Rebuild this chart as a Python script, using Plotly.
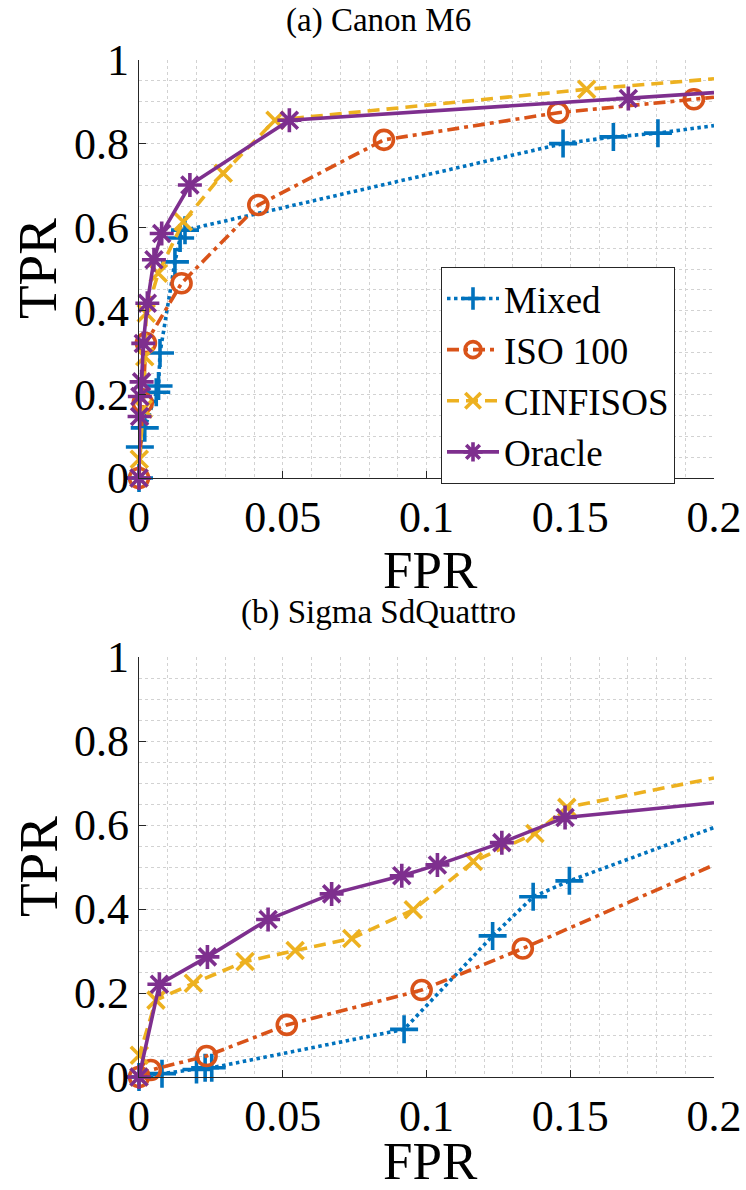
import plotly.graph_objects as go

# ---------------- data ----------------
series_names = ["Mixed", "ISO 100", "CINFISOS", "Oracle"]

# (a) Canon M6
a_mixed_fpr = [0, 0.0003, 0.002, 0.006, 0.0068, 0.0073, 0.0125, 0.0143, 0.016, 0.1475, 0.165, 0.1805, 0.2]
a_mixed_tpr = [0, 0.074, 0.12, 0.205, 0.22, 0.299, 0.517, 0.574, 0.593, 0.80, 0.816, 0.825, 0.843]
a_iso_fpr = [0, 0.0013, 0.0024, 0.0148, 0.0415, 0.0852, 0.1458, 0.193, 0.2]
a_iso_tpr = [0, 0.18, 0.323, 0.466, 0.653, 0.809, 0.874, 0.906, 0.911]
a_cin_fpr = [0, 0.0001, 0.0015, 0.002, 0.0025, 0.0067, 0.0154, 0.0293, 0.0473, 0.1557, 0.2]
a_cin_tpr = [0, 0.045, 0.165, 0.29, 0.394, 0.49, 0.613, 0.729, 0.856, 0.93, 0.955]
a_orc_fpr = [0, 0.0002, 0.0003, 0.0009, 0.0015, 0.0029, 0.0052, 0.0079, 0.0177, 0.0523, 0.1702, 0.2]
a_orc_tpr = [0, 0.147, 0.195, 0.23, 0.322, 0.418, 0.522, 0.585, 0.701, 0.856, 0.908, 0.922]

# (b) Sigma SdQuattro
b_mixed_fpr = [0, 0.008, 0.02, 0.023, 0.0253, 0.0922, 0.123, 0.1371, 0.1497, 0.2]
b_mixed_tpr = [0, 0.008, 0.018, 0.022, 0.022, 0.1135, 0.336, 0.429, 0.467, 0.594]
b_iso_fpr = [0, 0.0041, 0.0235, 0.0514, 0.0983, 0.1335, 0.2]
b_iso_tpr = [0, 0.0167, 0.05, 0.124, 0.207, 0.306, 0.505]
b_cin_fpr = [0, 0.0001, 0.0059, 0.0189, 0.0369, 0.0543, 0.074, 0.0954, 0.1163, 0.1377, 0.1488, 0.2]
b_cin_tpr = [0, 0.052, 0.183, 0.223, 0.275, 0.301, 0.330, 0.398, 0.513, 0.58, 0.642, 0.712]
b_orc_fpr = [0, 0.0071, 0.0238, 0.0449, 0.067, 0.0914, 0.1038, 0.1262, 0.1482, 0.2]
b_orc_tpr = [0, 0.221, 0.286, 0.375, 0.436, 0.479, 0.505, 0.558, 0.618, 0.653]

x_ticks = [0, 0.05, 0.1, 0.15, 0.2]
y_ticks = [0, 0.2, 0.4, 0.6, 0.8, 1]
titles = ["(a) Canon M6", "(b) Sigma SdQuattro"]

# ---------------- styles ----------------
colors = ["#0072BD", "#D95319", "#EDB120", "#7E2F8E"]
dashes = ["3.5px,3.5px", "12px,5px,4px,5px", "12px,7px", "solid"]
symbols = ["cross-thin-open", "circle-open", "x-thin-open", "asterisk-open"]
msizes = [20, 19, 17, 20]
FONT = "Liberation Serif, Times New Roman, serif"
TXT = "#000000"
W, H = 746, 1190
LW = 3.6

fig = go.Figure()

panels = [
    ("x", "y", [(a_mixed_fpr, a_mixed_tpr), (a_iso_fpr, a_iso_tpr), (a_cin_fpr, a_cin_tpr), (a_orc_fpr, a_orc_tpr)], True),
    ("x2", "y2", [(b_mixed_fpr, b_mixed_tpr), (b_iso_fpr, b_iso_tpr), (b_cin_fpr, b_cin_tpr), (b_orc_fpr, b_orc_tpr)], False),
]

for xa, ya, data, show in panels:
    for i, (fx, ty) in enumerate(data):
        n = len(fx)
        sizes = [msizes[i]] * (n - 1) + [0]  # last point is only where the curve leaves the axes
        fig.add_trace(go.Scatter(
            x=fx, y=ty, xaxis=xa, yaxis=ya, name=series_names[i],
            mode="lines+markers", showlegend=show, cliponaxis=False,
            line=dict(color=colors[i], width=LW, dash=dashes[i]),
            marker=dict(symbol=symbols[i], size=sizes, color=colors[i], opacity=1,
                        line=dict(color=colors[i], width=LW)),
        ))

def px_x(p):
    return p / W

def px_y(p):
    return 1 - p / H

xdom = [px_x(139), px_x(714)]
grid_kw = dict(showgrid=True, gridcolor="#d2d2d2", griddash="dot", gridwidth=1)
tick_font = dict(family=FONT, size=44, color=TXT)

def make_axis(rng, vals, minor_step, domain, anchor):
    return dict(
        range=rng, tickvals=vals, domain=domain, anchor=anchor,
        showline=True, linecolor="#262626", linewidth=1.2, mirror=False,
        ticks="inside", ticklen=7, tickcolor="#262626", tickwidth=1,
        zeroline=False, automargin=False, tickfont=tick_font,
        minor=dict(dtick=minor_step, tick0=0, ticks="", **grid_kw),
        **grid_kw,
    )

fig.update_layout(
    width=W, height=H,
    margin=dict(l=0, r=0, t=0, b=0, autoexpand=False),
    font=dict(family=FONT, color=TXT, size=20),
    paper_bgcolor="white", plot_bgcolor="white",
    xaxis=make_axis([0, 0.2], x_ticks, 0.01, xdom, "y"),
    yaxis=make_axis([0, 1], y_ticks, 0.05, [px_y(478), px_y(60)], "x"),
    xaxis2=make_axis([0, 0.2], x_ticks, 0.01, xdom, "y2"),
    yaxis2=make_axis([0, 1], y_ticks, 0.05, [px_y(1077), px_y(657)], "x2"),
    legend=dict(
        x=px_x(441), y=px_y(267), xanchor="left", yanchor="top",
        bgcolor="white", bordercolor="#262626", borderwidth=1,
        font=dict(family=FONT, size=37, color=TXT),
        tracegroupgap=0, itemwidth=52,
    ),
    showlegend=True,
)

annots = []
for title, ty in zip(titles, [20, 613]):
    annots.append(dict(text=title, x=px_x(378), y=px_y(ty), xref="paper", yref="paper",
                       showarrow=False, xanchor="center", yanchor="middle",
                       font=dict(family=FONT, size=33, color=TXT)))
for fy in [570, 1161]:
    annots.append(dict(text="FPR", x=px_x(430), y=px_y(fy), xref="paper", yref="paper",
                       showarrow=False, xanchor="center", yanchor="middle",
                       font=dict(family=FONT, size=53, color=TXT)))
for ty in [269, 867]:
    annots.append(dict(text="TPR", x=px_x(38), y=px_y(ty), xref="paper", yref="paper",
                       showarrow=False, xanchor="center", yanchor="middle", textangle=-90,
                       font=dict(family=FONT, size=55, color=TXT)))
fig.update_layout(annotations=annots)

fig.write_html("out.html")
